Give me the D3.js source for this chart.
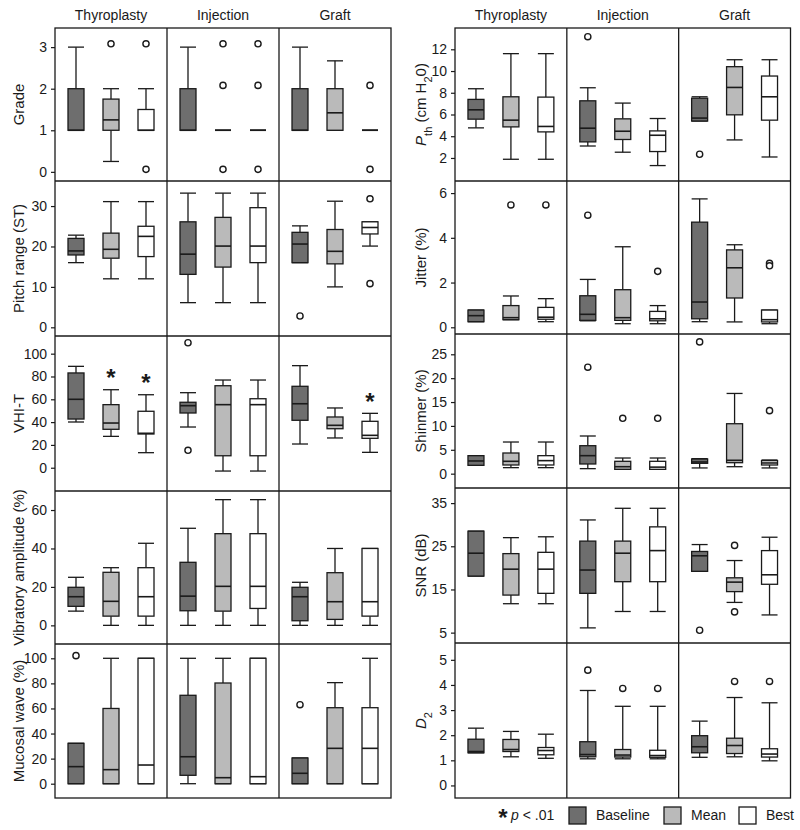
<!DOCTYPE html>
<html><head><meta charset="utf-8">
<script src="https://cdn.jsdelivr.net/npm/d3@7"></script>
<style>body{margin:0;background:#fff} text{font-family:"Liberation Sans",Arial,sans-serif;fill:#1a1a1a}</style>
</head><body><svg id="chart" width="800" height="830"></svg>
<script>
// ---------------- DATA ----------------
const groups = ["Thyroplasty", "Injection", "Graft"];
const conditions = ["Baseline", "Mean", "Best"];
// stats: [group][condition] = [lowWhisker, Q1, median, Q3, highWhisker]
const gradeStats = [
  [[1,1,1,2,3],[0.25,1,1.25,1.75,2],[1,1,1,1.5,2]],
  [[1,1,1,2,3],[1,1,1,1,1],[1,1,1,1,1]],
  [[1,1,1,2,3],[1,1,1.42,2,2.67],[1,1,1,1,1]]];
const gradeOutliers = [[[],[3.08],[3.08,0.06]],[[],[3.08,2.08,0.06],[3.08,2.08,0.06]],[[],[],[2.08,0.06]]];
const gradeTicks = [0,1,2,3];

const pitchStats = [
  [[16,17.9,18.9,22,22.8],[12,17.1,19.3,23.3,31.1],[12,17.5,22.5,25,31.1]],
  [[6.1,13.1,18.1,26.1,33.2],[6.1,14.9,20.1,27.2,33.2],[6.1,16,20.1,29.6,33.2]],
  [[16,16,20.6,23.5,25.1],[10,15.7,18.8,24.2,31.2],[20.1,23.1,24.7,26.1,26.1]]];
const pitchOutliers = [[[],[],[]],[[],[],[]],[[2.8],[],[31.8,10.8]]];
const pitchTicks = [0,10,20,30];

const vhiStats = [
  [[40.1,42.7,60,83.1,88.9],[27.5,33.7,39.2,55.3,68.4],[13.2,29.6,30.2,49.5,64]],
  [[35.7,48,54.4,57.4,65.8],[-2.9,10.5,55.3,71.9,76.9],[-2.9,10.5,55.3,60.5,76.9]],
  [[20.8,41.6,56.1,71.4,89.5],[26.1,34.2,37.2,44.5,52.4],[13.5,25.8,28.4,40.7,47.7]]];
const vhiOutliers = [[[],[],[]],[[109.6,15.3],[],[]],[[],[],[]]];
const vhiSignificant = [[false,true,true],[false,false,false],[false,false,true]];
const vhiTicks = [0,20,40,60,80,100];

const vibStats = [
  [[7.4,9.9,14.9,19.8,25],[0,4.8,12.5,27.6,30],[0,4.8,14.9,30,42.7]],
  [[0,7.6,15.2,32.8,50.5],[0,7.4,20.3,47.7,65.4],[0,8.8,20.3,47.7,65.4]],
  [[0,2.4,14.9,19.8,22.4],[0,3.1,12.3,27.4,40],[0,4.8,12.3,40,40]]];
const vibOutliers = [[[],[],[]],[[],[],[]],[[],[],[]]];
const vibTicks = [0,20,40,60];

const mucStats = [
  [[0,0,13.6,32.2,32.2],[0,0,11.2,60,100],[0,0,14.9,100,100]],
  [[0,6.7,21.5,70.5,100],[0,0,4.8,80.3,100],[0,0,5.6,100,100]],
  [[0,0,8.3,20.5,20.5],[0,0,28.2,60.6,80.6],[0,0,28.2,60.6,100]]];
const mucOutliers = [[[102.1],[],[]],[[],[],[]],[[63],[],[]]];
const mucTicks = [0,20,40,60,80,100];

const pthStats = [
  [[4.77,5.57,6.43,7.39,8.37],[1.88,4.86,5.48,7.63,11.6],[1.88,4.4,4.9,7.6,11.6]],
  [[3.1,3.48,4.74,7.26,8.46],[2.53,3.7,4.46,5.6,7.05],[1.3,2.59,4.09,4.49,5.63]],
  [[5.4,5.4,5.67,7.5,7.63],[3.66,5.97,8.49,10.4,11.04],[2.09,5.48,7.63,9.54,11.04]]];
const pthOutliers = [[[],[],[]],[[13.16],[],[]],[[2.34],[],[]]];
const pthTicks = [2,4,6,8,10,12];

const jitterStats = [
  [[0.25,0.25,0.52,0.77,0.77],[0.34,0.34,0.43,0.97,1.4],[0.25,0.36,0.45,0.89,1.28]],
  [[0.29,0.31,0.58,1.41,2.14],[0.16,0.31,0.43,1.68,3.6],[0.16,0.29,0.38,0.71,0.97]],
  [[0.25,0.38,1.13,4.7,5.74],[0.24,1.31,2.66,3.46,3.69],[0.16,0.24,0.34,0.77,0.77]]];
const jitterOutliers = [[[],[5.47],[5.47]],[[5.01],[],[2.5]],[[],[],[2.86,2.75]]];
const jitterTicks = [0,2,4,6];

const shimmerStats = [
  [[1.75,1.75,2.66,3.77,3.77],[1.26,1.82,2.59,4.33,6.63],[1.26,1.82,2.73,3.77,6.63]],
  [[1.05,2.03,3.77,5.86,7.89],[0.91,0.91,1.46,2.59,3.28],[0.91,0.91,1.37,2.59,3.28]],
  [[1.2,2.17,2.45,3.07,3.14],[1.46,2.3,2.8,10.46,16.8],[1.2,1.82,2.24,2.73,2.87]]];
const shimmerOutliers = [[[],[],[]],[[22.3],[11.6],[11.6]],[[27.6],[],[13.2]]];
const shimmerTicks = [0,5,10,15,20,25];

const snrStats = [
  [[18.1,18.1,23.4,28.5,28.5],[11.7,13.7,19.7,23.3,27],[11.7,14.1,19.7,23.6,27.2]],
  [[6.1,14.1,19.5,26.2,31.1],[9.9,16.8,23.4,26.2,33.8],[9.9,16.8,24,29.5,33.8]],
  [[19.2,19.2,22.8,23.8,25.4],[12,14.5,16.7,17.7,21.7],[9.1,16.2,18.4,24,27.1]]];
const snrOutliers = [[[],[],[]],[[],[],[]],[[5.55],[25.2,9.8],[]]];
const snrTicks = [5,15,25,35];

const d2Stats = [
  [[1.3,1.3,1.35,1.84,2.28],[1.14,1.35,1.43,1.83,2.15],[1.08,1.22,1.39,1.51,2.04]],
  [[1.06,1.14,1.23,1.74,3.78],[1.06,1.13,1.21,1.43,3.15],[1.06,1.12,1.19,1.4,3.15]],
  [[1.12,1.3,1.54,1.98,2.56],[1.14,1.27,1.59,1.88,3.5],[0.98,1.13,1.25,1.46,3.29]]];
const d2Outliers = [[[],[],[]],[[4.59],[3.86],[3.86]],[[],[4.14],[4.14]]];
const d2Ticks = [0,1,2,3,4,5];

// ---------------- LAYOUT / STYLE ----------------
const fills = {Baseline: "#6e6e6e", Mean: "#bababa", Best: "#ffffff"};
const ink = "#1a1a1a";
const boxW = 16;

const leftSide = {x0: 55, x1: 391, rows: [28, 181, 336, 491, 644, 798], labelX: 19};
const rightSide = {x0: 455, x1: 790.5, rows: [28, 181, 334, 488, 643, 798], labelX: 421};

const leftMetrics = [
  {stats: gradeStats, out: gradeOutliers, ticks: gradeTicks, domain: [-0.22, 3.46], label: [{t: "Grade"}]},
  {stats: pitchStats, out: pitchOutliers, ticks: pitchTicks, domain: [-2.15, 36.2], label: [{t: "Pitch range (ST)"}]},
  {stats: vhiStats, out: vhiOutliers, ticks: vhiTicks, domain: [-20.4, 115.5], label: [{t: "VHI-T"}], sig: vhiSignificant},
  {stats: vibStats, out: vibOutliers, ticks: vibTicks, domain: [-9.7, 69.9], label: [{t: "Vibratory amplitude (%)"}]},
  {stats: mucStats, out: mucOutliers, ticks: mucTicks, domain: [-11.4, 111.4], label: [{t: "Mucosal wave (%)"}]}
];
const rightMetrics = [
  {stats: pthStats, out: pthOutliers, ticks: pthTicks, domain: [-0.12, 13.96],
   label: [{t: "P", it: true}, {t: "th", sub: true}, {t: " (cm H"}, {t: "2", sub: true}, {t: "0)"}]},
  {stats: jitterStats, out: jitterOutliers, ticks: jitterTicks, domain: [-0.3, 6.54], label: [{t: "Jitter (%)"}]},
  {stats: shimmerStats, out: shimmerOutliers, ticks: shimmerTicks, domain: [-3, 29.25], label: [{t: "Shinmer (%)"}]},
  {stats: snrStats, out: snrOutliers, ticks: snrTicks, domain: [2.6, 38.5], label: [{t: "SNR (dB)"}]},
  {stats: d2Stats, out: d2Outliers, ticks: d2Ticks, domain: [-0.5, 5.67], label: [{t: "D", it: true}, {t: "2", sub: true}]}
];

const svg = d3.select("#chart");

function drawSide(side, metrics) {
  const g = svg.append("g");
  const gx = d3.scaleBand().domain(groups).range([side.x0, side.x1]);
  const cx = d3.scalePoint().domain(conditions).range([0, gx.bandwidth()]).padding(0.6);

  // column headers
  groups.forEach(gr => {
    g.append("text").attr("x", gx(gr) + gx.bandwidth() / 2).attr("y", 20)
      .attr("text-anchor", "middle").attr("font-size", 14).text(gr);
  });

  metrics.forEach((m, ri) => {
    const top = side.rows[ri], bot = side.rows[ri + 1];
    const y = d3.scaleLinear().domain(m.domain).range([bot, top]);

    // axis
    const ax = g.append("g").attr("transform", `translate(${side.x0},0)`)
      .call(d3.axisLeft(y).tickValues(m.ticks).tickSize(4).tickPadding(4).tickFormat(d3.format("d")));
    ax.select(".domain").remove();
    ax.selectAll(".tick line").attr("stroke", ink).attr("stroke-width", 1.2);
    ax.selectAll(".tick text").attr("font-size", 14).attr("font-family", "Liberation Sans, Arial, sans-serif").attr("fill", ink);

    // y title
    const cy = (top + bot) / 2;
    const lt = g.append("text").attr("transform", `translate(${side.labelX},${cy}) rotate(-90)`)
      .attr("text-anchor", "middle").attr("dy", "0.35em").attr("font-size", 15);
    m.label.forEach(seg => {
      const ts = lt.append("tspan").text(seg.t);
      if (seg.it) ts.attr("font-style", "italic");
      if (seg.sub) ts.attr("font-size", 11).attr("baseline-shift", "sub");
    });

    // boxes
    groups.forEach((gr, gi) => {
      conditions.forEach((c, ci) => {
        const s = m.stats[gi][ci];
        const x = gx(gr) + cx(c);
        const bg = g.append("g");
        // whiskers
        bg.append("line").attr("x1", x).attr("x2", x).attr("y1", y(s[0])).attr("y2", y(s[1]))
          .attr("stroke", ink).attr("stroke-width", 1.3);
        bg.append("line").attr("x1", x).attr("x2", x).attr("y1", y(s[3])).attr("y2", y(s[4]))
          .attr("stroke", ink).attr("stroke-width", 1.3);
        [s[0], s[4]].forEach(v => {
          bg.append("line").attr("x1", x - boxW / 2).attr("x2", x + boxW / 2).attr("y1", y(v)).attr("y2", y(v))
            .attr("stroke", ink).attr("stroke-width", 1.3);
        });
        // box
        bg.append("rect").attr("x", x - boxW / 2).attr("width", boxW)
          .attr("y", y(s[3])).attr("height", y(s[1]) - y(s[3]))
          .attr("fill", fills[c]).attr("stroke", ink).attr("stroke-width", 1.3);
        // median
        bg.append("line").attr("x1", x - boxW / 2).attr("x2", x + boxW / 2).attr("y1", y(s[2])).attr("y2", y(s[2]))
          .attr("stroke", ink).attr("stroke-width", 1.6);
        // outliers
        m.out[gi][ci].forEach(v => {
          bg.append("circle").attr("cx", x).attr("cy", y(v)).attr("r", 3.1)
            .attr("fill", "#fff").attr("stroke", ink).attr("stroke-width", 1.4);
        });
        // significance
        if (m.sig && m.sig[gi][ci]) {
          bg.append("text").attr("x", x).attr("y", y(s[4]) - 13.5 + 10)
            .attr("text-anchor", "middle").attr("font-size", 24).attr("font-weight", "bold").text("*");
        }
      });
    });
  });

  // frame
  const fr = g.append("g").attr("fill", "none").attr("stroke", ink).attr("stroke-width", 1.3);
  const yTop = side.rows[0], yBot = side.rows[side.rows.length - 1];
  fr.append("rect").attr("x", side.x0).attr("y", yTop).attr("width", side.x1 - side.x0).attr("height", yBot - yTop);
  groups.slice(1).forEach(gr => {
    fr.append("line").attr("x1", gx(gr)).attr("x2", gx(gr)).attr("y1", yTop).attr("y2", yBot);
  });
  side.rows.slice(1, -1).forEach(r => {
    fr.append("line").attr("x1", side.x0).attr("x2", side.x1).attr("y1", r).attr("y2", r);
  });
}

drawSide(leftSide, leftMetrics);
drawSide(rightSide, rightMetrics);

// legend
const lg = svg.append("g");
lg.append("text").attr("x", 503).attr("y", 826).attr("text-anchor", "middle")
  .attr("font-size", 24).attr("font-weight", "bold").text("*");
const pt = lg.append("text").attr("x", 511).attr("y", 820).attr("font-size", 14);
pt.append("tspan").attr("font-style", "italic").text("p");
pt.append("tspan").text(" < .01");
const legendX = {Baseline: 569, Mean: 664, Best: 739};
conditions.forEach(c => {
  lg.append("rect").attr("x", legendX[c]).attr("y", 807).attr("width", 17).attr("height", 17)
    .attr("fill", fills[c]).attr("stroke", ink).attr("stroke-width", 1.3);
  lg.append("text").attr("x", legendX[c] + 27).attr("y", 820).attr("font-size", 14).text(c);
});
</script></body></html>
